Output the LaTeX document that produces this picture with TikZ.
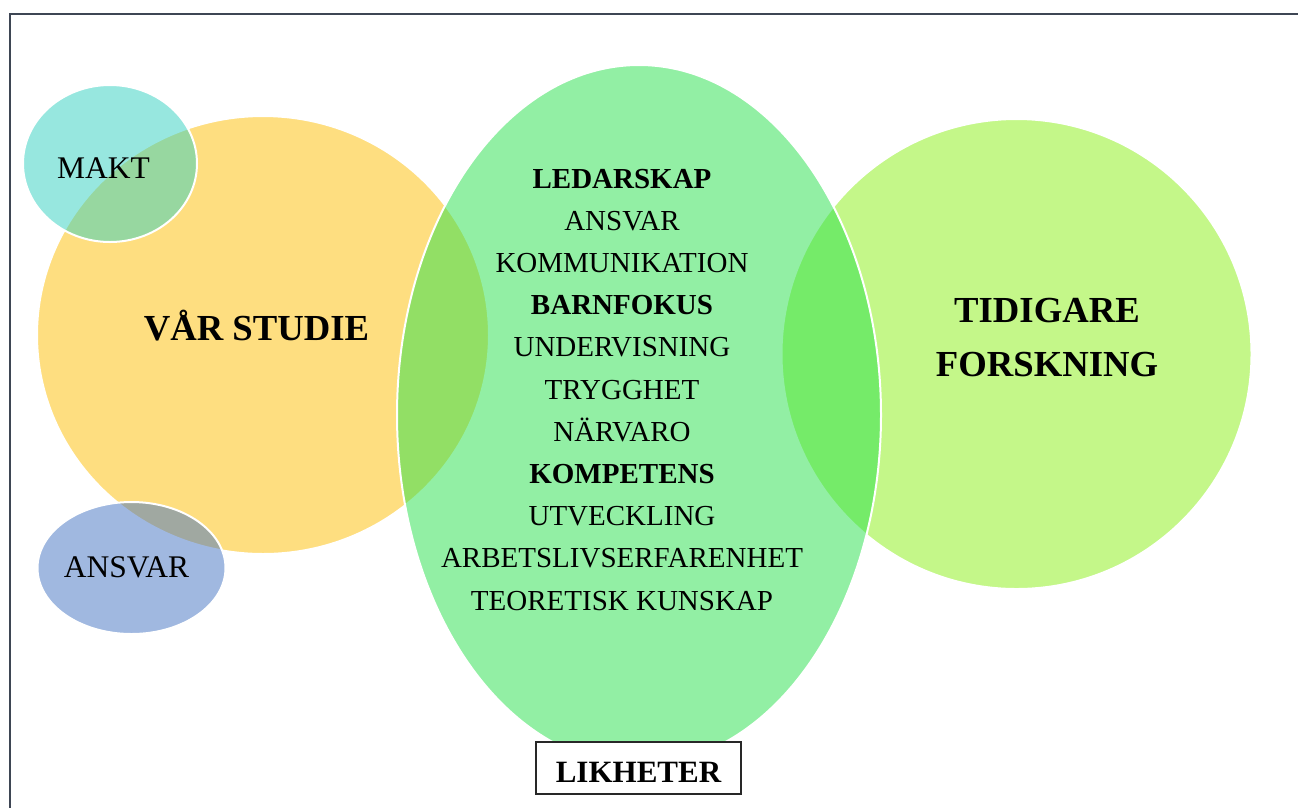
\documentclass[tikz,border=0pt]{standalone}
\usepackage{fontspec}
\setmainfont{Liberation Serif}
\usetikzlibrary{shapes.geometric}
\definecolor{cyellow}{RGB}{254,222,128}
\definecolor{clime}{RGB}{196,247,137}
\definecolor{cgreen}{RGB}{39,225,75}
\definecolor{ccyan}{RGB}{49,209,193}
\definecolor{cblue}{RGB}{67,115,195}
\definecolor{cframe}{RGB}{62,70,84}
\definecolor{cbox}{RGB}{40,40,40}
\tikzset{
  blob/.style={ellipse, inner sep=0pt, outer sep=0pt, draw=white, line width=2pt},
  listtxt/.style={anchor=base, inner sep=0pt, font=\fontsize{29}{30}\selectfont},
  listbold/.style={listtxt, font=\fontsize{29}{30}\selectfont\bfseries},
  bigtxt/.style={anchor=base, inner sep=0pt, font=\fontsize{36.7}{40}\selectfont\bfseries},
  smalltxt/.style={anchor=base, inner sep=0pt, font=\fontsize{31.5}{33}\selectfont}
}
\begin{document}
\begin{tikzpicture}[x=1pt,y=-1pt]
\useasboundingbox (0,0) rectangle (1298,807);
\clip (0,0) rectangle (1298,807);
\fill[white] (0,0) rectangle (1298,807);
\draw[cframe, line width=2pt] (9.5,14) rectangle (1330,840);
% circles
\node[blob, fill=cyellow, minimum width=452pt, minimum height=438pt] (studie) at (263,335) {};
\node[blob, fill=clime, minimum width=470pt, minimum height=470pt] (forsk) at (1016.5,354) {};
\node[blob, fill=cgreen, fill opacity=0.5, minimum width=484pt, minimum height=700pt] (lik) at (639,415) {};
\node[blob, fill=ccyan, fill opacity=0.5, minimum width=174pt, minimum height=157pt] (makt) at (110,163.5) {};
\node[blob, fill=cblue, fill opacity=0.5, minimum width=188pt, minimum height=132pt] (ansv) at (131.5,568) {};
% labels
\node[bigtxt] (tstudie) at (256.5,340.5) {VÅR STUDIE};
\node[bigtxt] (tforsk1) at (1047,322) {TIDIGARE};
\node[bigtxt] (tforsk2) at (1047,376) {FORSKNING};
\node[smalltxt] (tmakt) at (103.5,178) {MAKT};
\node[smalltxt] (tansv) at (126.5,577) {ANSVAR};
% list
\node[listbold] (l1) at (622,188) {LEDARSKAP};
\node[listtxt] (l2) at (622,230.2) {ANSVAR};
\node[listtxt] (l3) at (622,272.4) {KOMMUNIKATION};
\node[listbold] (l4) at (622,314.6) {BARNFOKUS};
\node[listtxt] (l5) at (622,356.8) {UNDERVISNING};
\node[listtxt] (l6) at (622,399) {TRYGGHET};
\node[listtxt] (l7) at (622,441.2) {NÄRVARO};
\node[listbold] (l8) at (622,483.4) {KOMPETENS};
\node[listtxt] (l9) at (622,525.6) {UTVECKLING};
\node[listtxt] (l10) at (622,567.8) {ARBETSLIVSERFARENHET};
\node[listtxt] (l11) at (622,610) {TEORETISK KUNSKAP};
% box
\node[draw=cbox, fill=white, line width=1.8pt, minimum width=205.6pt, minimum height=52.3pt,
      inner sep=0pt, text height=28.3pt, text depth=0pt,
      font=\fontsize{31}{33}\selectfont\bfseries] (likheter) at (638.5,767.85) {LIKHETER};
\end{tikzpicture}
\end{document}
